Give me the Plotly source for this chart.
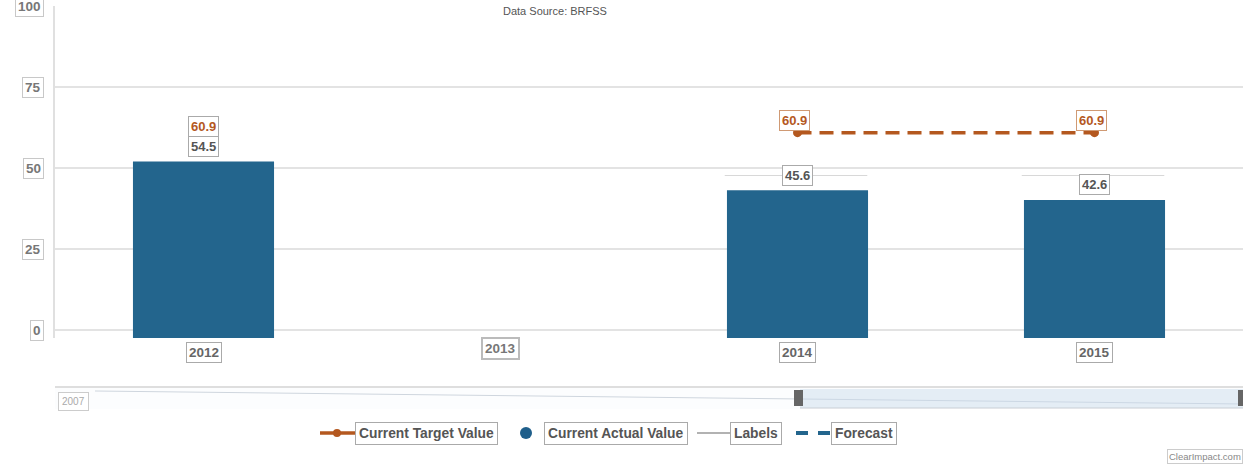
import plotly.graph_objects as go

# ---------------- data ----------------
years = ["2012", "2013", "2014", "2015"]
actual_values = [54.5, None, 45.6, 42.6]
target_2012_year = ["2012"]
target_2012_value = [60.9]
forecast_years = ["2014", "2015"]
forecast_values = [60.9, 60.9]
y_ticks = [0, 25, 50, 75, 100]
legend_names = ["Current Target Value", "Current Actual Value", "Labels", "Forecast"]
navigator_start_label = "2007"
source_text = "Data Source: BRFSS"
credit_text = "ClearImpact.com"

# ---------------- style ----------------
W, H = 1243, 464
ORANGE = "#b4581f"
BLUE = "#23658d"
FONT = "Liberation Sans"


def px(x):
    return x / W


def py(y):
    return 1 - y / H


fig = go.Figure()

fig.add_trace(go.Bar(
    x=years, y=actual_values, yaxis="y2",
    marker=dict(color=BLUE, line=dict(width=0)), width=0.475,
    showlegend=False, hoverinfo="x+y",
))
fig.add_trace(go.Scatter(
    x=target_2012_year, y=target_2012_value, yaxis="y2", mode="markers",
    marker=dict(color=ORANGE, size=7), showlegend=False,
))
fig.add_trace(go.Scatter(
    x=forecast_years, y=forecast_values, yaxis="y", mode="lines+markers",
    line=dict(color=ORANGE, width=3.5, dash="14px,8px"),
    marker=dict(color=ORANGE, size=9), showlegend=False,
))

ann = []
shapes = []


def A(**kw):
    kw.setdefault("showarrow", False)
    kw.setdefault("xanchor", "center")
    kw.setdefault("yanchor", "middle")
    ann.append(kw)


# data labels (category index used for x)
for yr, v in zip(years, actual_values):
    if v is None:
        continue
    A(x=years.index(yr), y=v, xref="x", yref="y2", yshift=15,
      text=f"<b>{v}</b>", font=dict(family=FONT, size=13, color="#555"),
      bgcolor="white", bordercolor="#aaa", borderwidth=1, borderpad=2)
for yr, v in zip(target_2012_year, target_2012_value):
    A(x=years.index(yr), y=v, xref="x", yref="y2", yshift=14,
      text=f"<b>{v}</b>", font=dict(family=FONT, size=13, color=ORANGE),
      bgcolor="white", bordercolor="#aaa", borderwidth=1, borderpad=2)
for yr, v in zip(forecast_years, forecast_values):
    A(x=years.index(yr), y=v, xref="x", yref="y", yshift=12, xshift=-3,
      text=f"<b>{v}</b>", font=dict(family=FONT, size=13, color=ORANGE),
      bgcolor="white", bordercolor="#d09a74", borderwidth=1, borderpad=2)

# x tick labels (boxed)
for i, (yr, v) in enumerate(zip(years, actual_values)):
    ghost = v is None
    A(x=i, y=py(348 if ghost else 352), xref="x", yref="paper",
      text=f"<b>{yr}</b>",
      font=dict(family=FONT, size=13.5, color="#777" if ghost else "#666"),
      bgcolor="white", bordercolor="#bbb" if ghost else "#aaa",
      borderwidth=2 if ghost else 1, borderpad=2)

# y tick labels (boxed)
for t in y_ticks:
    A(x=px(44), y=t, xref="paper", yref="y", xanchor="right",
      text=f"<b>{t}</b>", font=dict(family=FONT, size=13.5, color="#777"),
      bgcolor="white", bordercolor="#c8c8c8", borderwidth=1, borderpad=2)

# source text
A(x=px(555), y=py(11), xref="paper", yref="paper",
  text=source_text, font=dict(family=FONT, size=11, color="#555"))

# credit
A(x=1, y=py(456), xref="paper", yref="paper", xanchor="right",
  text=credit_text, font=dict(family=FONT, size=9.5, color="#888"),
  bgcolor="white", bordercolor="#ccc", borderwidth=1, borderpad=1)

# artifacts around 2014/2015 bar tops
for yr in ["2014", "2015"]:
    i = years.index(yr)
    shapes.append(dict(type="rect", xref="x", yref="paper", x0=i - 0.235, x1=i + 0.235,
                       y0=py(174), y1=py(165), fillcolor="white", line=dict(width=0),
                       layer="below"))
    shapes.append(dict(type="line", xref="x", yref="paper", x0=i - 0.245, x1=i + 0.235,
                       y0=py(175.5), y1=py(175.5), line=dict(color="#d8d8d8", width=1),
                       layer="below"))

# navigator
shapes += [
    dict(type="rect", xref="paper", yref="paper", x0=px(55), x1=1, y0=py(409), y1=py(387),
         fillcolor="#fcfdfe", line=dict(width=0)),
    dict(type="line", xref="paper", yref="paper", x0=px(55), x1=1, y0=py(387), y1=py(387),
         line=dict(color="#dedede", width=2)),
    dict(type="line", xref="paper", yref="paper", x0=px(95), x1=1, y0=py(391), y1=py(404),
         line=dict(color="#cfd6de", width=1)),
    dict(type="rect", xref="paper", yref="paper", x0=px(800), x1=1, y0=py(408), y1=py(389),
         fillcolor="rgba(200,218,236,0.45)", line=dict(width=0)),
    dict(type="line", xref="paper", yref="paper", x0=px(800), x1=1, y0=py(408), y1=py(408),
         line=dict(color="#c9ced4", width=1)),
    dict(type="rect", xref="paper", yref="paper", x0=px(794), x1=px(803), y0=py(406), y1=py(390),
         fillcolor="#666", line=dict(width=0)),
    dict(type="rect", xref="paper", yref="paper", x0=px(1238), x1=1, y0=py(406), y1=py(390),
         fillcolor="#666", line=dict(width=0)),
]
A(x=px(73), y=py(401), xref="paper", yref="paper",
  text=navigator_start_label, font=dict(family=FONT, size=10, color="#aaa"),
  bgcolor="white", bordercolor="#ccc", borderwidth=1, borderpad=3)

# manual legend
LY = py(433)
legend_x = [355, 544, 730, 831]
for name, lx in zip(legend_names, legend_x):
    A(x=px(lx), y=LY, xref="paper", yref="paper", xanchor="left",
      text=f"<b>{name}</b>", font=dict(family=FONT, size=13.8, color="#555"),
      bgcolor="white", bordercolor="#aaa", borderwidth=1, borderpad=3)
shapes += [
    dict(type="line", xref="paper", yref="paper", x0=px(320), x1=px(356), y0=LY, y1=LY,
         line=dict(color=ORANGE, width=3.5)),
    dict(type="circle", xref="paper", yref="paper", x0=px(333), x1=px(341),
         y0=py(437), y1=py(429), fillcolor=ORANGE, line=dict(width=0)),
    dict(type="circle", xref="paper", yref="paper", x0=px(520), x1=px(532),
         y0=py(439), y1=py(427), fillcolor="#1f5f8b", line=dict(width=0)),
    dict(type="line", xref="paper", yref="paper", x0=px(697), x1=px(730), y0=LY, y1=LY,
         line=dict(color="#999", width=1.5)),
    dict(type="line", xref="paper", yref="paper", x0=px(796), x1=px(808), y0=LY, y1=LY,
         line=dict(color=BLUE, width=4)),
    dict(type="line", xref="paper", yref="paper", x0=px(818), x1=px(830), y0=LY, y1=LY,
         line=dict(color=BLUE, width=4)),
]

fig.update_layout(
    width=W, height=H,
    margin=dict(l=0, r=0, t=0, b=0, pad=0),
    paper_bgcolor="white", plot_bgcolor="white",
    showlegend=False,
    xaxis=dict(type="category", categoryorder="array", categoryarray=years,
               range=[-0.5, 3.5], domain=[px(55), 1],
               showticklabels=False, showgrid=False, zeroline=False, showline=False,
               fixedrange=True),
    yaxis=dict(range=[-8 / 3.24, 100], domain=[py(338), py(6)],
               tickvals=y_ticks, showticklabels=False,
               showgrid=True, gridcolor="#e3e3e3", gridwidth=2,
               zeroline=False, showline=True, linecolor="#e0e0e0", linewidth=2),
    yaxis2=dict(range=[0, 332 / 3.24], overlaying="y", visible=False),
    annotations=ann,
    shapes=shapes,
    font=dict(family=FONT),
)

fig.write_html(
    "out.html",
    config={"displayModeBar": False},
    post_script="document.body.style.margin='0';document.body.style.padding='0';"
                "document.body.style.overflow='hidden';",
)
